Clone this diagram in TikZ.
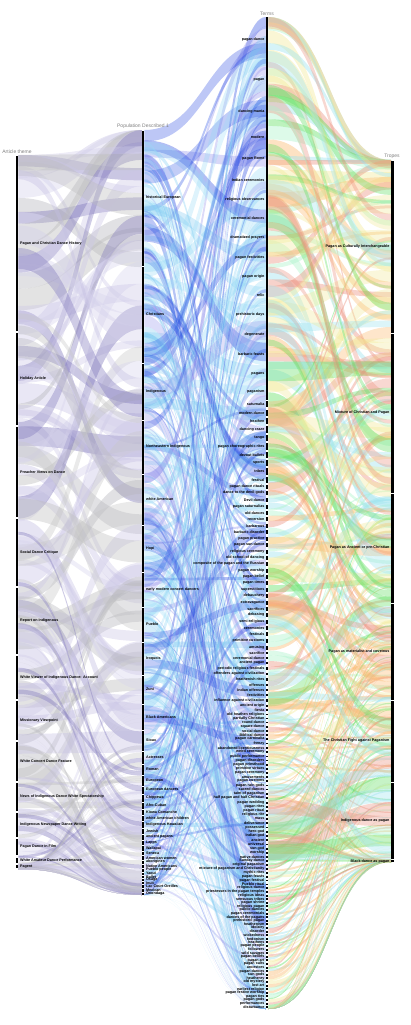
\documentclass[tikz,border=0pt]{standalone}
\usepackage{fontspec}
\setmainfont{Liberation Sans}

% ribbon colours
\definecolor{ga0}{HTML}{D2CEEA}
\definecolor{ga1}{HTML}{CBC6E6}
\definecolor{ga2}{HTML}{D6D3EC}
\definecolor{ga3}{HTML}{C4BFE2}
\definecolor{ga4}{HTML}{BDBDBD}
\definecolor{ga5}{HTML}{C8C8C8}
\definecolor{ga6}{HTML}{B8B8BE}
\definecolor{ga7}{HTML}{8179BC}
\definecolor{gb0}{HTML}{82CEF3}
\definecolor{gb1}{HTML}{93D8F5}
\definecolor{gb2}{HTML}{74C4F0}
\definecolor{gb3}{HTML}{9ADCF7}
\definecolor{gb4}{HTML}{8E8EEA}
\definecolor{gb5}{HTML}{9A98EC}
\definecolor{gb6}{HTML}{2346E0}
\definecolor{gb7}{HTML}{3458E6}
\definecolor{gc0}{HTML}{FBB970}
\definecolor{gc1}{HTML}{62DF62}
\definecolor{gc2}{HTML}{EC9482}
\definecolor{gc3}{HTML}{9DE3EE}
\definecolor{gc4}{HTML}{F2EA9A}
\definecolor{gc5}{HTML}{AEF3CB}

% #1 x left, #2 x right, #3/#4 left ends, #5/#6 right ends, #7 options
\newcommand{\flowband}[7]{%
  \fill[#7] (#1,#3) .. controls ({0.5*(#1+#2)},#3) and ({0.5*(#1+#2)},#5) .. (#2,#5)
    -- (#2,#6) .. controls ({0.5*(#1+#2)},#6) and ({0.5*(#1+#2)},#4) .. (#1,#4) -- cycle;}

\tikzset{
  bar/.style={fill=black},
  lab/.style={font=\bfseries\fontsize{3.7}{4}\selectfont, inner sep=0.4pt},
  ttl/.style={font=\fontsize{5}{6}\selectfont, text=black!50, inner sep=0.5pt, anchor=south}
}

\begin{document}
\begin{tikzpicture}[x=1pt,y=-1pt]
    \useasboundingbox (0,0) rectangle (410,1025);
    \pgfmathsetseed{12}

    % Article theme -> Population, stacked on the left
    \xdef\cur{155}
    \foreach \i in {1,...,110}{
      \pgfmathsetmacro\ra{\cur}
      \pgfmathsetmacro\rw{\ra<780 ? 5+18*rnd : 2+5*rnd}
      \pgfmathsetmacro\rb{min(\ra+\rw,869)}
      \pgfmathsetmacro\rc{max(130,min(895-1.07*\rw,130+(\ra-155)*1.07+(rnd-0.5)*420))}
      \pgfmathsetmacro\rd{\rc+1.07*(\rb-\ra)}
      \pgfmathtruncatemacro\ci{8*rnd}
      \flowband{18.3}{141.8}{\ra}{\rb}{\rc}{\rd}{fill=ga\ci,fill opacity=.42}
      \xdef\cur{\rb}
    }
    % stacked on the right
    \xdef\cur{130}
    \foreach \i in {1,...,110}{
      \pgfmathsetmacro\ra{\cur}
      \pgfmathsetmacro\rw{\ra<750 ? 5+18*rnd : 2+4*rnd}
      \pgfmathsetmacro\rb{min(\ra+\rw,895)}
      \pgfmathsetmacro\rc{max(155,min(869-\rw/1.07,155+(\ra-130)/1.07+(rnd-0.5)*450))}
      \pgfmathsetmacro\rd{\rc+(\rb-\ra)/1.07}
      \pgfmathtruncatemacro\ci{8*rnd}
      \flowband{18.3}{141.8}{\rc}{\rd}{\ra}{\rb}{fill=ga\ci,fill opacity=.38}
      \xdef\cur{\rb}
    }

    % Population -> Terms, stacked on the right
    \xdef\cur{17}
    \foreach \i in {1,...,320}{
      \pgfmathsetmacro\ra{\cur}
      \pgfmathsetmacro\rw{\ra<400 ? 4+10*rnd : (\ra<710 ? 2+5*rnd : 1+2.5*rnd)}
      \pgfmathsetmacro\rb{min(\ra+\rw,1009)}
      \pgfmathsetmacro\rc{130+rnd*(765-0.77*\rw)}
      \pgfmathsetmacro\rd{\rc+0.77*(\rb-\ra)}
      \pgfmathtruncatemacro\ci{\ra>850 ? 6*rnd : 8*rnd}
      \flowband{144.3}{265.8}{\rc}{\rd}{\ra}{\rb}{fill=gb\ci,fill opacity=.35}
      \xdef\cur{\rb}
    }
    % stacked on the left
    \xdef\cur{130}
    \foreach \i in {1,...,150}{
      \pgfmathsetmacro\ra{\cur}
      \pgfmathsetmacro\rw{\ra<750 ? 4+12*rnd : 1.5+3*rnd}
      \pgfmathsetmacro\rb{min(\ra+\rw,895)}
      \pgfmathsetmacro\rc{17+rnd*(990-1.29*\rw)}
      \pgfmathsetmacro\rd{\rc+1.29*(\rb-\ra)}
      \pgfmathtruncatemacro\ci{8*rnd}
      \flowband{144.3}{265.8}{\ra}{\rb}{\rc}{\rd}{fill=gb\ci,fill opacity=.3}
      \xdef\cur{\rb}
    }

    % Terms -> Tropes, stacked on the left
    \xdef\cur{17}
    \foreach \i in {1,...,320}{
      \pgfmathsetmacro\ra{\cur}
      \pgfmathsetmacro\rw{\ra<400 ? 4+10*rnd : (\ra<710 ? 2+5*rnd : 1+2.5*rnd)}
      \pgfmathsetmacro\rb{min(\ra+\rw,1009)}
      \pgfmathsetmacro\rc{max(160,min(862-0.71*\rw,160+(\ra-17)*0.709+(rnd-0.5)*420))}
      \pgfmathsetmacro\rd{\rc+0.71*(\rb-\ra)}
      \pgfmathtruncatemacro\ci{6*rnd}
      \flowband{268.3}{391}{\ra}{\rb}{\rc}{\rd}{fill=gc\ci,fill opacity=.42}
      \xdef\cur{\rb}
    }
    % stacked on the right
    \xdef\cur{160}
    \foreach \i in {1,...,120}{
      \pgfmathsetmacro\ra{\cur}
      \pgfmathsetmacro\rw{3+11*rnd}
      \pgfmathsetmacro\rb{min(\ra+\rw,862)}
      \pgfmathsetmacro\rc{max(17,min(860-1.41*\rw,17+(\ra-160)*1.2+(rnd-0.5)*480))}
      \pgfmathsetmacro\rd{\rc+1.41*(\rb-\ra)}
      \pgfmathtruncatemacro\ci{6*rnd}
      \flowband{268.3}{391}{\rc}{\rd}{\ra}{\rb}{fill=gc\ci,fill opacity=.36}
      \xdef\cur{\rb}
    }

    % Article theme
    \node[ttl] (ttlart) at (17,154) {Article theme};
    \foreach \ya/\yb/\lab [count=\k] in {155/332/Pagan and Christian Dance History,
        332/426/Holiday Article, 426/518/Preacher Views on Dance,
        518/587/Social Dance Critique, 587/655/Report on Indigenous,
        655/700/White Viewer of Indigenous Dance: Account, 700/741/Missionary Viewpoint,
        741/782/White Concert Dance Feature, 782/812/News of Indigenous Dance White Spectatorship,
        812/838/Indigenous Newspaper Dance Writing, 838/856/Pagan Dance in Film,
        857/863.5/White Amateur Dance Performance, 864.5/869/Pagent}{
      \fill[bar] (15.8,\ya+0.6) rectangle (18.3,\yb-0.6);
      \node[lab, anchor=west] (art\k) at (19.5,{0.5*(\ya+\yb)}) {\lab};
    }

    % Population Described 1
    \node[ttl] (ttlpop) at (143,129) {Population Described 1};
    \foreach \ya/\yb/\lab [count=\k] in {130/266/historical European, 266/363/Christians,
        363/420/Indigenous, 420/474/Northeastern Indigenous, 474/525/white American,
        525/572/Hopi, 572/607/early modern concert dancers, 607/642/Pueblo,
        642/675/Iroquois, 675/704/Zuni, 704/730/Black Americans, 730/751/Sioux,
        751/764/Actresses, 764/775/Roman, 775/786/European, 786/794/European dancers,
        794/802/Chippewa, 802/809/Afro-Cuban, 809/815/Kiowa Comanche,
        815/821/white American children, 821/828/Indigenous Hawaiian, 828/834/Jewish,
        834/840/ancient pagans, 840/845.5/Lapps, 845.5/851/Wallapai, 851/855.5/Seneca,
        855.5/860/American women, 860/864/aborigines, 864/868/Native Americans,
        868/872/Pueblo people, 872/875.5/Yaqui, 875.5/878.5/Ballet, 878.5/881.5/Osage,
        881.5/884.5/Inuit, 884.5/888.5/Lac Court Oreilles, 888.5/892/Mexican,
        892/895.5/Onondaga}{
      \fill[bar] (141.8,\ya+0.5) rectangle (144.3,\yb-0.5);
      \node[lab, anchor=west] (pop\k) at (145.5,{0.5*(\ya+\yb)}) {\lab};
    }

    % Terms
    \node[ttl] (ttlterm) at (267,16) {Terms};
    \foreach \yc/\hh/\lab [count=\k] in {39.5/22.5/pagan dance, 80/18/pagan,
        112/14/dancing mania, 137/11/modern, 159/11/pagan Rome, 180/10/Indian ceremonies,
        199.5/9.5/religious observances, 218.5/9.5/ceremonial dances,
        238/10/dramatized prayers, 257.5/9.5/pagan festivities, 276.5/9.5/pagan origin,
        295.5/9.5/relic, 315/10/prehistoric days, 334.5/9.5/degenerate,
        354.5/10.5/barbaric feasts, 374/9/pagans, 391.5/8.5/paganism,
        404/3.5/saturnalia, 413/3.5/modern dance, 421/3.5/heathen, 429.5/3.5/dancing craze,
        438/3.5/tango, 446.5/3.5/pagan choreographic rites, 455/3.5/devout ballets,
        463/3.5/sports, 471.5/3.5/tribes, 480/3/festival,
        487/2.4/pagan dance rituals, 493/2.4/dance to the devil-gods, 500/2.4/Devil dance,
        506.5/2.4/pagan saturnalias, 513/2.4/old dances, 519/2.4/reversion,
        526/2.4/barbarous, 532/2.4/barbaric disorder, 538.5/2.4/pagan practice,
        545/2.4/pagan sun dance, 551.5/2.4/religious ceremony, 558/2.4/old school of dancing,
        564/2.4/composite of the pagan and the Russian, 570.5/2.4/pagan worship,
        577/2.4/pagan belief, 583/2.4/pagan times, 589.5/2.4/superstitions,
        596/2.4/debauchery, 602.5/2.4/extravagance, 609/2.4/sacrifices, 615/2.4/debasing,
        621.5/2.4/semi-religious, 628/2.4/ceremonies, 634/2.4/festivals,
        640.5/2.4/primitive customs, 647.5/2.4/amusing,
        653/1.8/sacrifice, 658/1.8/ceremonial dance, 663/1.8/ancient pagan,
        668.5/1.8/periodic religious festivals, 674/1.8/offenders against civilization,
        679.5/1.8/heathenish rites, 685/1.8/offenses, 690/1.8/Indian offenses,
        695/1.8/festivities, 700.5/1.8/influence against civilization, 706/1.8/ancient origin,
        710/1.3/fiesta, 714.5/1.3/old heathen religions, 718.5/1.3/partially Christian,
        722.5/1.3/round dance, 727/1.3/square dance, 731/1.3/social dance,
        735/1.3/Biblical dance, 739/1.3/pagan carnivalia, 743.5/1.3/frenzy,
        748/1.3/abandoned licentiousness, 752/1.3/weird ceremony, 756.5/1.3/public performance,
        760.5/1.3/pagan disorders, 765/1.3/pagan priesthood, 769/1.3/primitive virtues,
        773/1.3/pagan ceremony, 777/1.3/amusements, 781/1.3/pagan customs,
        785.5/1.3/pagan rain gods, 789.5/1.3/sacred dances, 794/1.3/taint of paganism,
        798/1.3/half pagan and half Christian, 803/1.3/pagan wedding, 807/1.3/pagan rites,
        811/1.3/pagan ritual, 815/1.3/religious rite, 819/1.3/mass, 823/1.3/deliverance,
        827.5/1.3/possessed, 832/1.3/hero god, 836/1.3/Indian god, 840/1.3/ancient,
        844.5/1.3/universal, 849/1.3/sun god, 853/1.3/worship,
        857/1.2/native dances, 861/1.2/Sunday dance, 865/1.2/original paganism,
        869/1.2/mixture of paganism and Christianity, 873/1.2/mythic rites,
        877/1.2/pagan feasts, 880.5/1.2/pagan festival, 884.5/1.2/Pueblo ritual,
        888/1.2/religious dance}{
      \fill[bar] (265.8,\yc-\hh+0.4) rectangle (268.3,\yc+\hh-0.4);
      \node[lab, anchor=east] (term\k) at (265,\yc) {\lab};
    }
    \foreach \lab [count=\k from 128] in {priestesses in the pagan temples, religious ideas,
        sensuous tribes, pagan shrine, religious pagan, public dances, pagan ceremonials,
        dances of the pagans, prehistoric pagan, heathenism, idolatry, disorder, wickedness,
        hedonism, heathens, pagan people, followers, wild savages, pagan beliefs, pagan art,
        pagan cults, ancestors, pagan dances, sun gods, heathenry, old mystery, lost art,
        earliest religion, pagan festive worship, pagan ties, pagan gods, performances,
        disturbance}{
      \pgfmathsetmacro\yc{892+(\k-128)*3.6}
      \fill[bar] (265.8,\yc-1) rectangle (268.3,\yc+1);
      \node[lab, anchor=east] (term\k) at (265,\yc) {\lab};
    }

    % Tropes
    \node[ttl] (ttltrope) at (392,159) {Tropes};
    \foreach \ya/\yb/\lab [count=\k] in {160/333/Pagan as Culturally Interchangeable,
        333/493/Mixture of Christian and Pagan, 493/603/Pagan as Ancient or pre-Christian,
        603/700/Pagan as materialist and covetous, 700/782/The Christian Fight against Paganism,
        782/859/Indigenous dance as pagan, 859.6/862.6/Black dance as pagan}{
      \fill[bar] (391,\ya+0.5) rectangle (393.5,\yb-0.5);
      \node[lab, anchor=east] (trope\k) at (390,{0.5*(\ya+\yb)}) {\lab};
    }
\end{tikzpicture}
\end{document}
